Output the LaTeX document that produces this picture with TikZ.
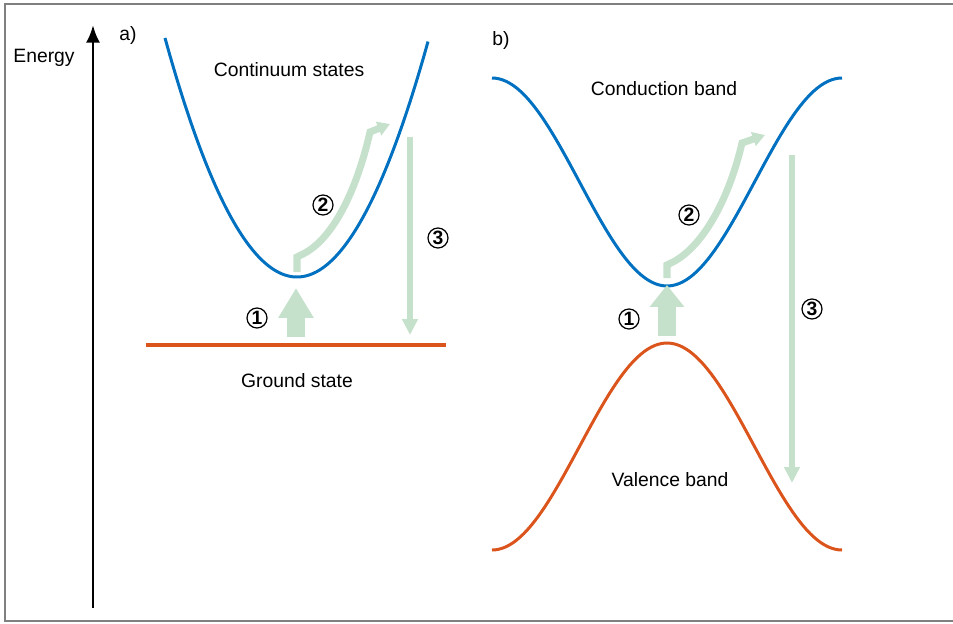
\documentclass[tikz,border=0pt]{standalone}
\usepackage{fontspec}
\setmainfont{Liberation Sans}
\usepackage{tikz}
\usetikzlibrary{arrows.meta, positioning}
\definecolor{bandblue}{RGB}{0,112,192}
\definecolor{bandred}{RGB}{218,84,28}
\definecolor{exgreen}{RGB}{197,225,204}

\begin{document}
\begin{tikzpicture}[x=0.02cm, y=-0.02cm, font=\fontsize{11}{13}\selectfont,
    num/.style={circle, draw, line width=0.7pt, inner sep=0pt, minimum size=0.4cm,
        font=\bfseries\fontsize{11}{13}\selectfont},
    band/.style={line width=1.7pt},
    pump/.style={exgreen, line width=10pt, -{Triangle[width=19pt,length=#1]}},
    relax/.style={exgreen, line width=4pt, line join=miter, -{Triangle[width=8pt,length=7pt]}},
    emit/.style={exgreen, line width=3pt, -{Triangle[width=8.5pt,length=9pt]}}]
    \useasboundingbox (0,0) rectangle (953,623);

    % 1. Khung và trục năng lượng
    \draw[gray, line width=0.9pt] (970,4) -- (5,4) -- (5,621) -- (970,621);
    \coordinate (ebot) at (93,608);
    \coordinate (etop) at (93,25);
    \draw[line width=1.7pt, -{Latex[width=8pt,length=10pt]}] (ebot) -- (etop);
    \node (energy) at (44,58) {Energy};

    % 2. Hình a): nguyên tử
    \node (la) at (128,35) {a)};
    \draw[band, bandblue, samples=100, domain=165:428]
        plot (\x, {277 - 1.372*((\x-297)/10)^2});
    \draw[bandred, line width=2.6pt] (146,345) -- (446,345);
    \node (cont) at (289,70) {Continuum states};
    \node (ground) at (297,381) {Ground state};

    \coordinate (a1s) at (296,337);
    \coordinate (a1e) at (296,288);
    \draw[pump=17pt] (a1s) -- (a1e);
    \coordinate (a2s) at (297,272);
    \coordinate (a2e) at (390,124);
    \draw[relax] (a2s) -- (297,257) -- (303,254)
        .. controls (335,238) and (358,185) .. (370,132) -- (a2e);
    \coordinate (a3s) at (410,137);
    \coordinate (a3e) at (410,335);
    \draw[emit] (a3s) -- (a3e);
    \node[num] (na1) at (257,318) {1};
    \node[num] (na2) at (323,205) {2};
    \node[num] (na3) at (438,238) {3};

    % 3. Hình b): chất rắn
    \node (lb) at (501,40) {b)};
    \draw[band, bandblue, samples=100, domain=492:842]
        plot (\x, {182 + 104*cos((\x-667)/175*180)});
    \draw[band, bandred, samples=100, domain=492:842]
        plot (\x, {446.5 - 103.5*cos((\x-667)/175*180)});
    \node (cond) at (664,89) {Conduction band};
    \node (val) at (670,480) {Valence band};

    \coordinate (b1s) at (667,336);
    \coordinate (b1e) at (667,285);
    \draw[pump=12.5pt] (b1s) -- (b1e);
    \coordinate (b2s) at (667,278);
    \coordinate (b2e) at (765,135);
    \draw[relax] (b2s) -- (667,265) -- (673,262)
        .. controls (705,245) and (730,195) .. (742,143) -- (b2e);
    \coordinate (b3s) at (792,155);
    \coordinate (b3e) at (792,483);
    \draw[emit] (b3s) -- (b3e);
    \node[num] (nb1) at (629,319) {1};
    \node[num] (nb2) at (689,215) {2};
    \node[num] (nb3) at (812,309) {3};
\end{tikzpicture}
\end{document}
